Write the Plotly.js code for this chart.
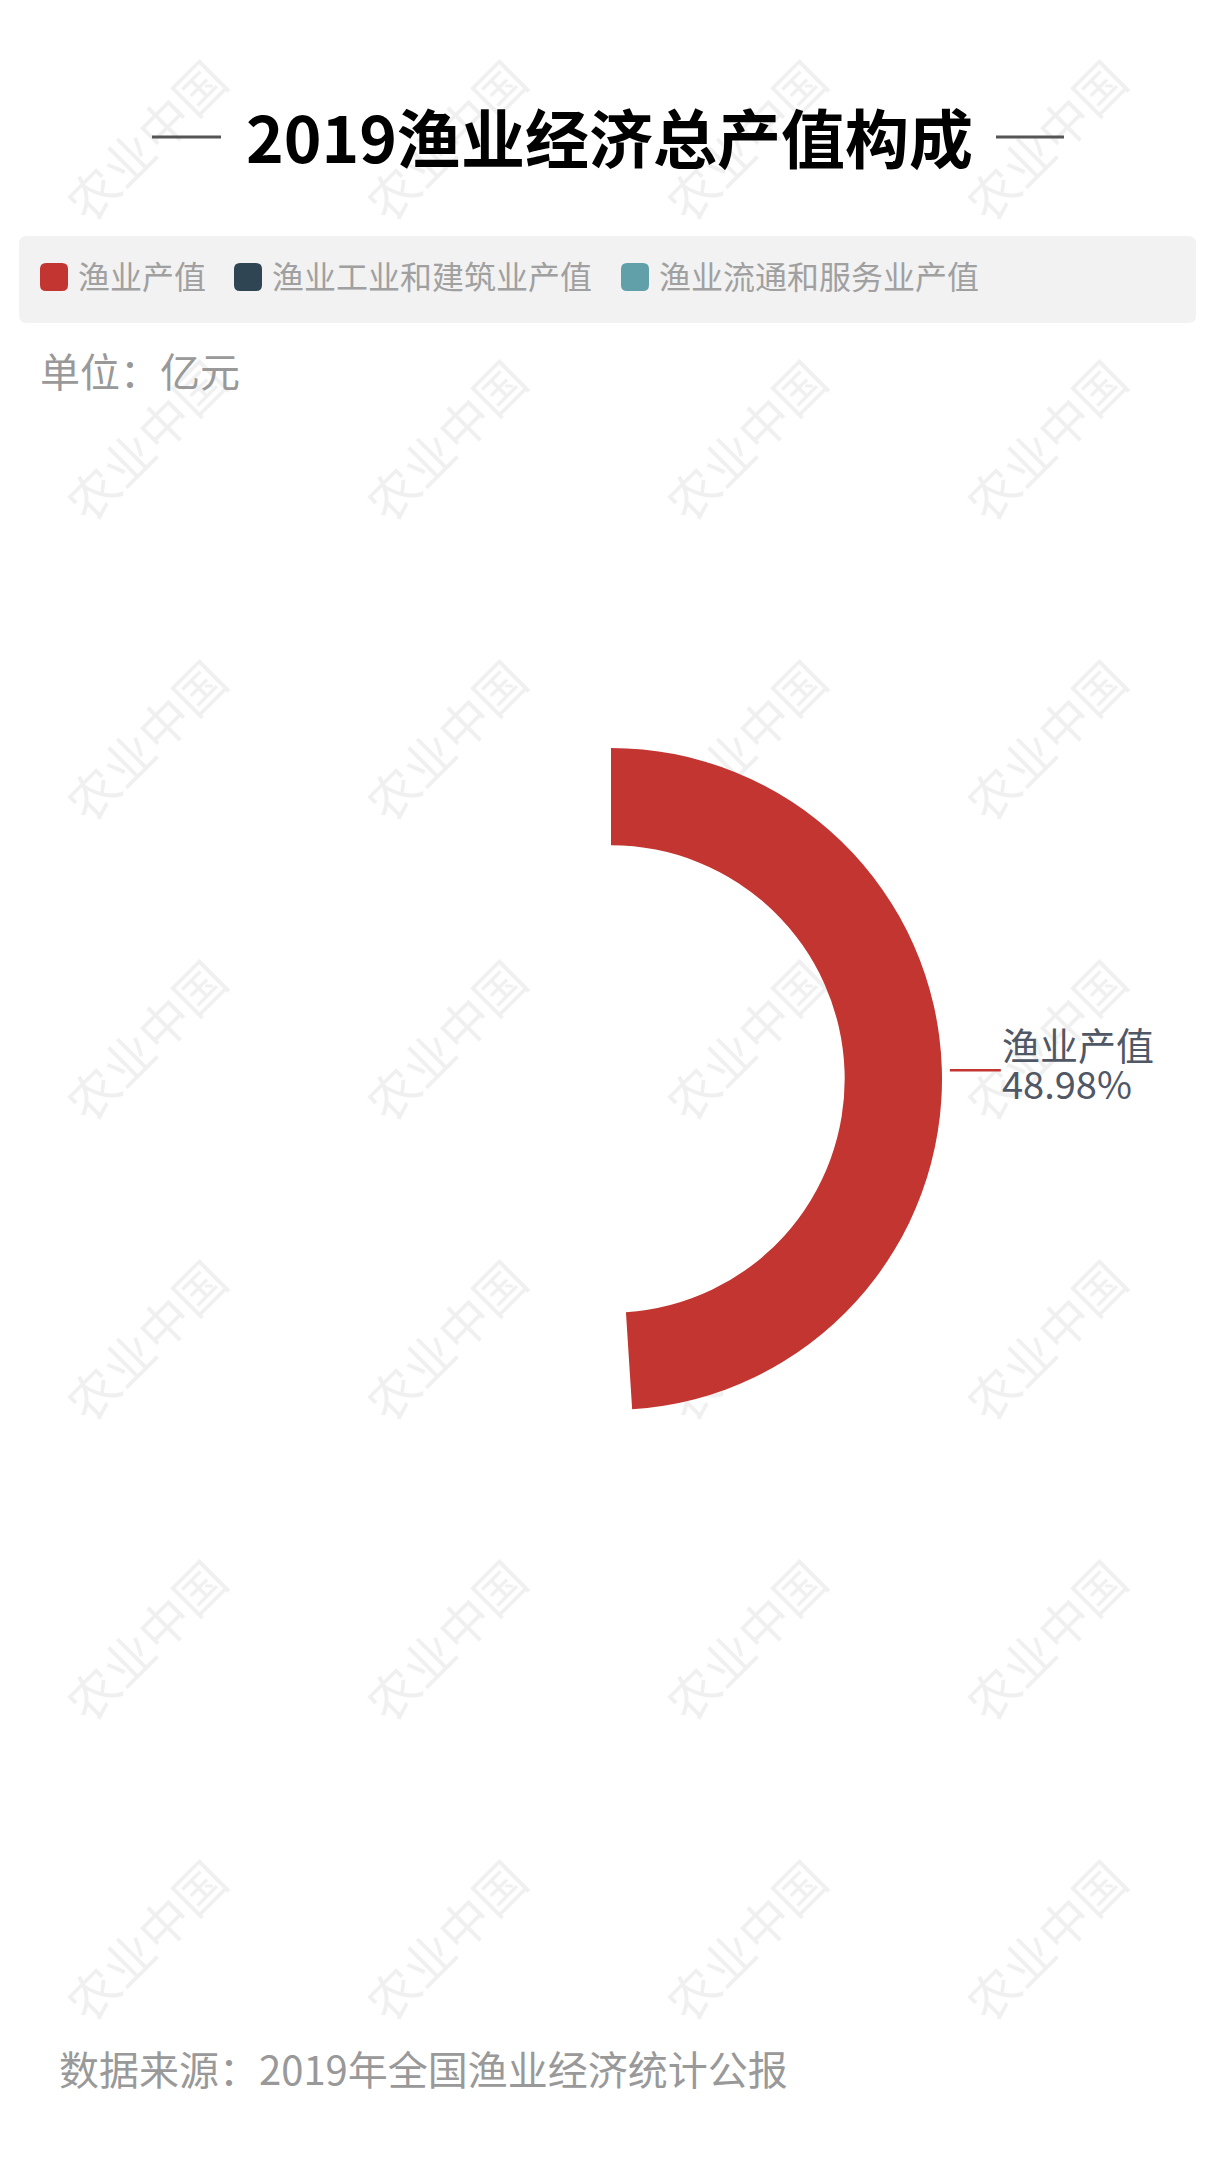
<!DOCTYPE html>
<html>
<head>
<meta charset="utf-8">
<script src="https://cdn.plot.ly/plotly-3.0.1.min.js"></script>
<style>
  html, body { margin: 0; padding: 0; background: #ffffff; }
  #chart { width: 1216px; height: 2160px; }
</style>
</head>
<body>
<div id="chart"></div>
<script>
// ---- data ----
var chartTitle = '2019渔业经济总产值构成';
var unitLabel = '单位：亿元';
var sourceLabel = '数据来源：2019年全国渔业经济统计公报';
var categories = ['渔业产值', '渔业工业和建筑业产值', '渔业流通和服务业产值'];
var values = [12934.49, 5853.38, 7618.63];
var colors = ['#c23531', '#2f4554', '#61a0a8'];
var visibleSlices = [true, false, false];   // only the first slice is drawn in the reference
var watermarkText = '农业中国';

// ---- layout helpers (pixel -> paper) ----
var W = 1216, H = 2160;
function px(x) { return x / W; }
function py(y) { return 1 - y / H; }
var FONT = '"Noto Sans CJK SC", "Noto Sans", sans-serif';

// pie geometry
var cx = 611, cy = 1079, R = 331;

var sliceColors = colors.map(function (c, i) { return visibleSlices[i] ? c : 'rgba(0,0,0,0)'; });

var trace = {
  type: 'pie',
  labels: categories,
  values: values,
  hole: 0.706,
  sort: false,
  direction: 'clockwise',
  rotation: 0,
  textinfo: 'none',
  hoverinfo: 'label+value+percent',
  showlegend: false,
  marker: { colors: sliceColors, line: { width: 0 } },
  domain: { x: [px(cx - R), px(cx + R)], y: [py(cy + R), py(cy - R)] }
};

var shapes = [];
var annotations = [];

// watermarks (below everything)
var wmX = [150, 450, 750, 1050];
var wmY = [145, 445, 745, 1045, 1345, 1645, 1945];
wmY.forEach(function (y) {
  wmX.forEach(function (x) {
    shapes.push({
      type: 'rect', xref: 'paper', yref: 'paper', layer: 'below',
      x0: px(x - 10), x1: px(x + 10), y0: py(y + 10), y1: py(y - 10),
      line: { width: 0 }, fillcolor: 'rgba(0,0,0,0)',
      label: { text: watermarkText, textangle: -45, textposition: 'middle center',
               font: { family: FONT, size: 50, color: '#f0f0f0' } }
    });
  });
});

// title with side dashes
annotations.push({
  xref: 'paper', yref: 'paper', x: px(609), y: py(135), xanchor: 'center', yanchor: 'middle',
  text: '<b>' + chartTitle + '</b>', showarrow: false,
  font: { family: FONT, size: 64, color: '#000000' }
});
shapes.push({ type: 'line', xref: 'paper', yref: 'paper', x0: px(152), x1: px(221), y0: py(137), y1: py(137), line: { color: '#555555', width: 3 } });
shapes.push({ type: 'line', xref: 'paper', yref: 'paper', x0: px(996), x1: px(1064), y0: py(137), y1: py(137), line: { color: '#555555', width: 3 } });

// legend box (rounded)
function roundRect(x0, y0, x1, y1, r) {
  return 'M' + px(x0 + r) + ',' + py(y0) +
    ' L' + px(x1 - r) + ',' + py(y0) +
    ' Q' + px(x1) + ',' + py(y0) + ' ' + px(x1) + ',' + py(y0 + r) +
    ' L' + px(x1) + ',' + py(y1 - r) +
    ' Q' + px(x1) + ',' + py(y1) + ' ' + px(x1 - r) + ',' + py(y1) +
    ' L' + px(x0 + r) + ',' + py(y1) +
    ' Q' + px(x0) + ',' + py(y1) + ' ' + px(x0) + ',' + py(y1 - r) +
    ' L' + px(x0) + ',' + py(y0 + r) +
    ' Q' + px(x0) + ',' + py(y0) + ' ' + px(x0 + r) + ',' + py(y0) + ' Z';
}
shapes.push({ type: 'path', xref: 'paper', yref: 'paper', path: roundRect(19, 236, 1196, 323, 8), fillcolor: '#f2f2f2', line: { width: 0 }, layer: 'below' });

var legendSwatchX = [40, 234, 621];
var legendY = 277;
categories.forEach(function (cat, i) {
  var x0 = legendSwatchX[i];
  shapes.push({ type: 'path', xref: 'paper', yref: 'paper', path: roundRect(x0, legendY - 14, x0 + 28, legendY + 14, 6), fillcolor: colors[i], line: { width: 0 } });
  annotations.push({
    xref: 'paper', yref: 'paper', x: px(x0 + 36), y: py(legendY - 2), xanchor: 'left', yanchor: 'middle',
    text: cat, showarrow: false, font: { family: FONT, size: 32, color: '#a0a0a0' }
  });
});

// unit label
annotations.push({
  xref: 'paper', yref: 'paper', x: px(38), y: py(370), xanchor: 'left', yanchor: 'middle',
  text: unitLabel, showarrow: false, font: { family: FONT, size: 40, color: '#999999' }
});

// slice label with leader line (first slice only)
var total = values.reduce(function (a, b) { return a + b; }, 0);
var frac0 = values[0] / total;
var midAngle = frac0 * Math.PI;  // half of slice, clockwise from top
var lx0 = cx + (R + 8) * Math.sin(midAngle);
var ly0 = cy - (R + 8) * Math.cos(midAngle);
var lx1 = lx0 + 51;
shapes.push({ type: 'line', xref: 'paper', yref: 'paper', x0: px(lx0), x1: px(lx1), y0: py(ly0 + 2), y1: py(ly0 + 2), line: { color: colors[0], width: 2.5 } });
annotations.push({
  xref: 'paper', yref: 'paper', x: px(lx1 - 1), y: py(ly0 - 25), xanchor: 'left', yanchor: 'middle',
  text: categories[0], showarrow: false, font: { family: FONT, size: 38, color: '#505765' }
});
annotations.push({
  xref: 'paper', yref: 'paper', x: px(lx1 - 1), y: py(ly0 + 14), xanchor: 'left', yanchor: 'middle',
  text: (frac0 * 100).toFixed(2) + '%', showarrow: false, font: { family: FONT, size: 38, color: '#505765' }
});

// source
annotations.push({
  xref: 'paper', yref: 'paper', x: px(57), y: py(2068), xanchor: 'left', yanchor: 'middle',
  text: sourceLabel, showarrow: false, font: { family: FONT, size: 40, color: '#999999' }
});

var layout = {
  width: W, height: H,
  margin: { l: 0, r: 0, t: 0, b: 0, pad: 0 },
  paper_bgcolor: '#ffffff',
  plot_bgcolor: '#ffffff',
  showlegend: false,
  shapes: shapes,
  annotations: annotations
};

Plotly.newPlot('chart', [trace], layout, { displayModeBar: false, staticPlot: false });
</script>
</body>
</html>
